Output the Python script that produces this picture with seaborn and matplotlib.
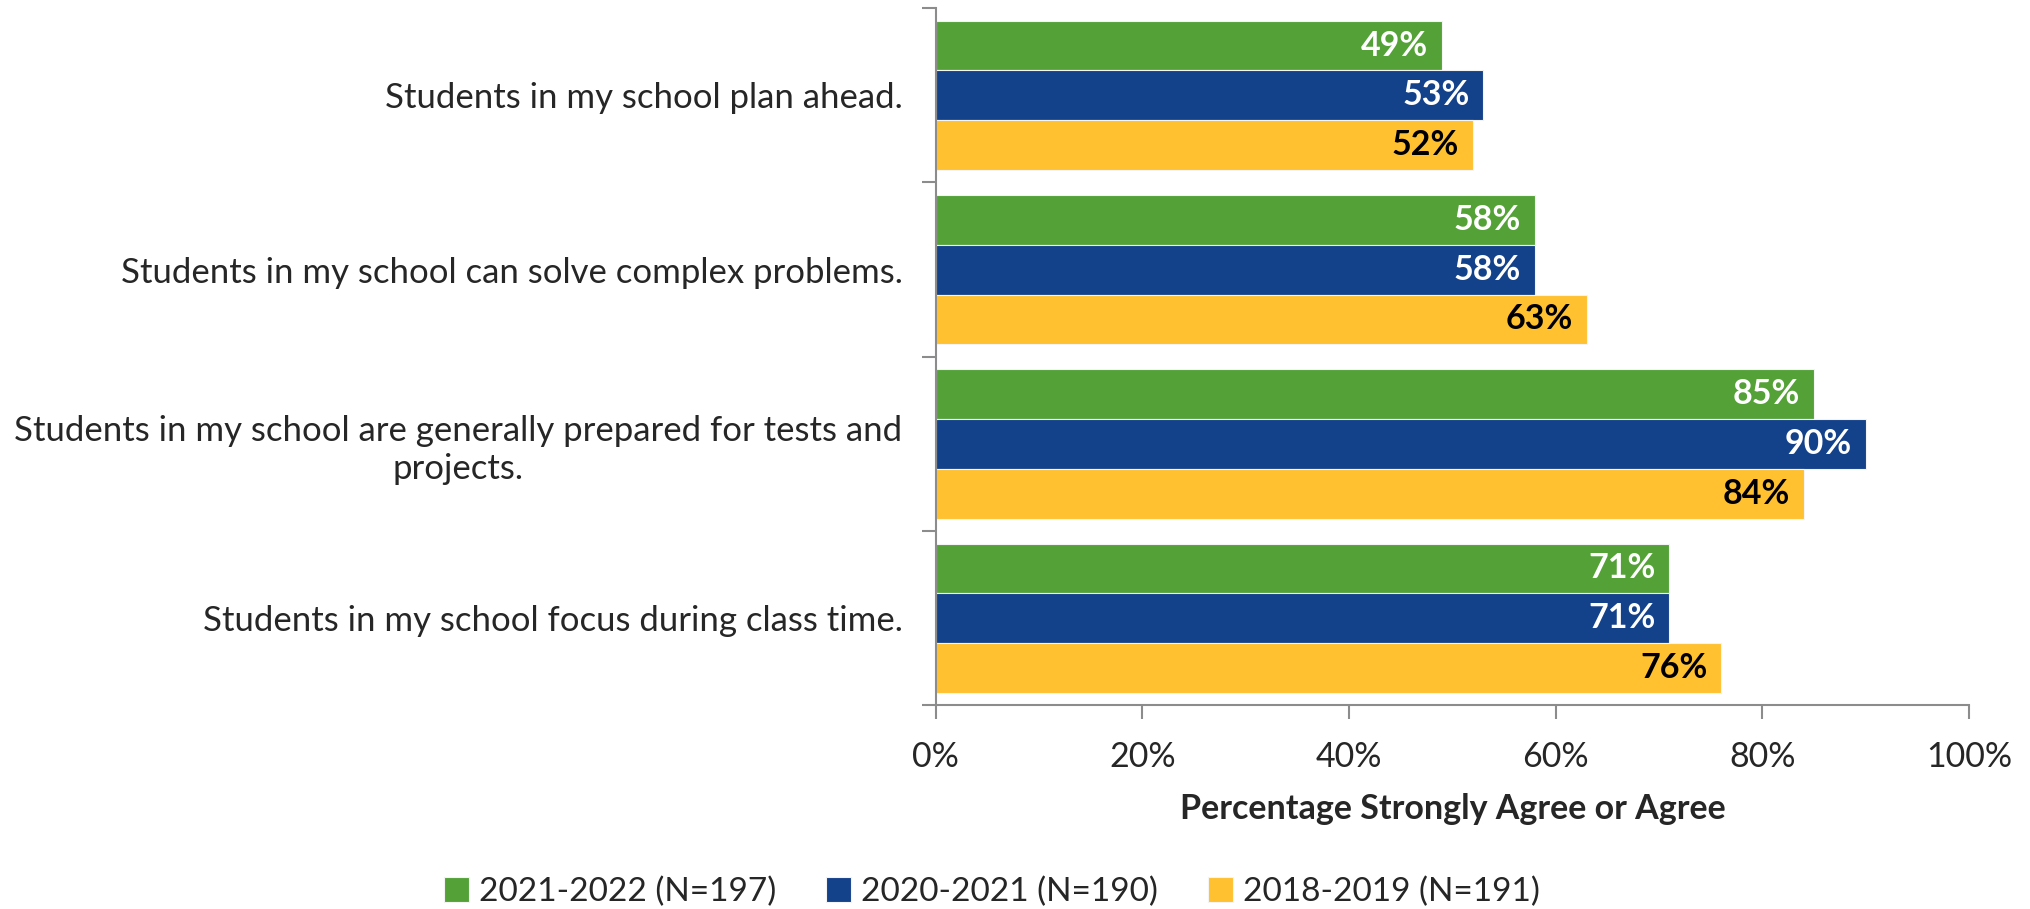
import matplotlib
matplotlib.use("Agg")
import matplotlib.pyplot as plt
from matplotlib.ticker import FixedLocator, PercentFormatter
import pandas as pd
import seaborn as sns

statements = [
    "Students in my school plan ahead.",
    "Students in my school can solve complex problems.",
    "Students in my school are generally prepared for tests and\nprojects.",
    "Students in my school focus during class time.",
]
years = ["2021-2022 (N=197)", "2020-2021 (N=190)", "2018-2019 (N=191)"]
pct_2122 = [49, 58, 85, 71]
pct_2021 = [53, 58, 90, 71]
pct_1819 = [52, 63, 84, 76]

colors = ["#54A237", "#13418A", "#FFC12F"]
label_colors = ["white", "white", "black"]

df = pd.DataFrame({
    "statement": statements * 3,
    "year": [y for y in years for _ in statements],
    "pct": pct_2122 + pct_2021 + pct_1819,
})

sns.set_theme(style="white")
plt.rcParams["font.family"] = ["Lato", "DejaVu Sans"]

fig = plt.figure(figsize=(20.3, 9.09), dpi=100)
ax = fig.add_axes([0.461, 0.224, 0.509, 0.767])

sns.barplot(data=df, y="statement", x="pct", hue="year", order=statements,
            hue_order=years, palette=colors, saturation=1, orient="h",
            width=0.857, edgecolor="#f4f4f4", linewidth=0.8, ax=ax)

# value labels inside the bar end
for cont, lc in zip(ax.containers, label_colors):
    for bar, val in zip(cont.patches, cont.datavalues):
        ax.annotate(f"{val:.0f}%", xy=(bar.get_width(), bar.get_y() + bar.get_height() / 2),
                    xytext=(-10, 0), textcoords="offset points", ha="right", va="center",
                    color=lc, fontsize=24.5, fontweight="bold")

ax.set_xlim(0, 100)
ax.set_ylim(len(statements) - 0.5, -0.5)
ax.xaxis.set_major_locator(FixedLocator([0, 20, 40, 60, 80, 100]))
ax.xaxis.set_major_formatter(PercentFormatter(decimals=0))

# category ticks sit between groups
ax.yaxis.set_minor_locator(FixedLocator([i - 0.5 for i in range(len(statements) + 1)]))
ax.tick_params(axis="y", which="major", length=0, pad=24, labelsize=25)
ax.tick_params(axis="y", which="minor", left=True, length=10, width=1.5, color="#8c8c8c")
ax.tick_params(axis="x", which="major", bottom=True, length=10, width=1.5,
               color="#8c8c8c", pad=16, labelsize=24.5)
for lbl in ax.get_yticklabels():
    lbl.set_multialignment("center")
    lbl.set_linespacing(1.25)

for side in ["top", "right"]:
    ax.spines[side].set_visible(False)
for side in ["left", "bottom"]:
    ax.spines[side].set_color("#8c8c8c")
    ax.spines[side].set_linewidth(1.5)

ax.set_ylabel("")
ax.set_xlabel("Percentage Strongly Agree or Agree", fontsize=24.5,
              fontweight="bold", labelpad=14)

handles, labels = ax.get_legend_handles_labels()
ax.legend_.remove()
fig.legend(handles, labels, loc="center", bbox_to_anchor=(0.4885, 0.019), ncol=3,
           frameon=False, fontsize=24, handlelength=0.75, handleheight=0.75,
           handletextpad=0.3, columnspacing=1.5)

fig.savefig("out.png", dpi=100)
